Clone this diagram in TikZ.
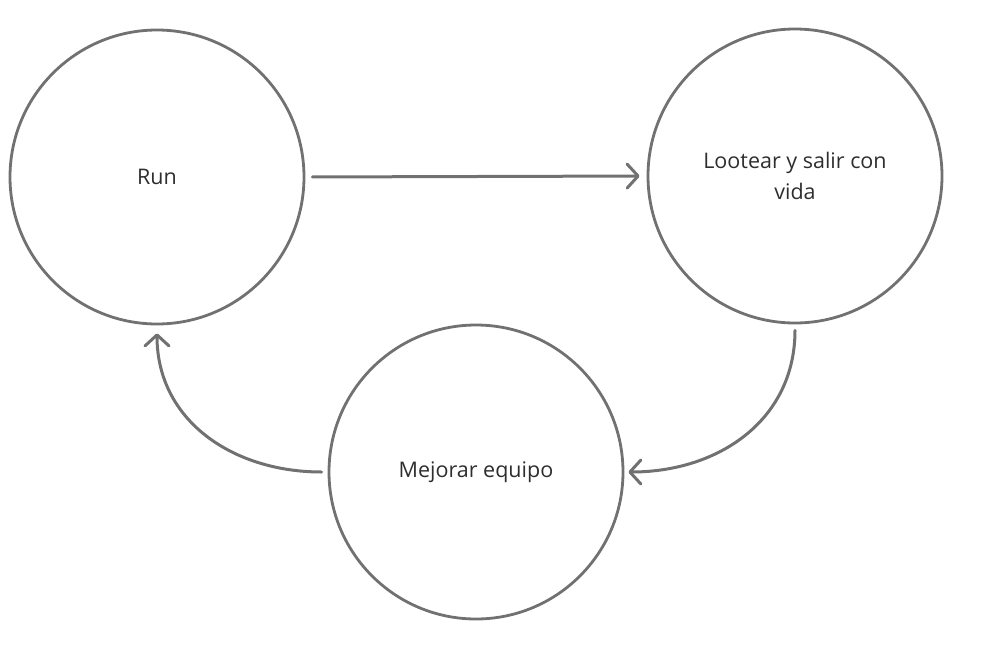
\documentclass[tikz,border=0pt]{standalone}
\usepackage{fontspec}
\setmainfont{Open Sans}
\usepackage{tikz}
\usetikzlibrary{arrows.meta}
\definecolor{linegray}{HTML}{717171}
\definecolor{textgray}{HTML}{2E2E2E}
\begin{document}
\begin{tikzpicture}[x=1pt,y=-1pt,line width=3pt,draw=linegray,
  -{Straight Barb[length=11pt,width=24pt,line cap=round,line join=round]},line cap=round]
\tikzstyle{estado}=[circle,draw=linegray,line width=2.8pt,minimum size=294pt,inner sep=0pt,
  text=textgray,font=\fontsize{21.5}{31}\selectfont,align=center]

\useasboundingbox (0,0) rectangle (983,659);

\node[estado] (run) at (157,177) {Run};
\node[estado] (loot) at (795,176) {Lootear y salir con\\vida};
\node[estado] (equipo) at (476,472) {Mejorar equipo};

\draw[linegray,shorten <=7pt,shorten >=7pt] (run.east) -- (loot.west);
\draw[linegray,shorten <=6pt,shorten >=4pt] (loot.south) .. controls +(0,95) and +(95,0) .. (equipo.east);
\draw[linegray,shorten <=6pt,shorten >=8pt] (equipo.west) .. controls +(-95,0) and +(0,95) .. (run.south);

\end{tikzpicture}
\end{document}
